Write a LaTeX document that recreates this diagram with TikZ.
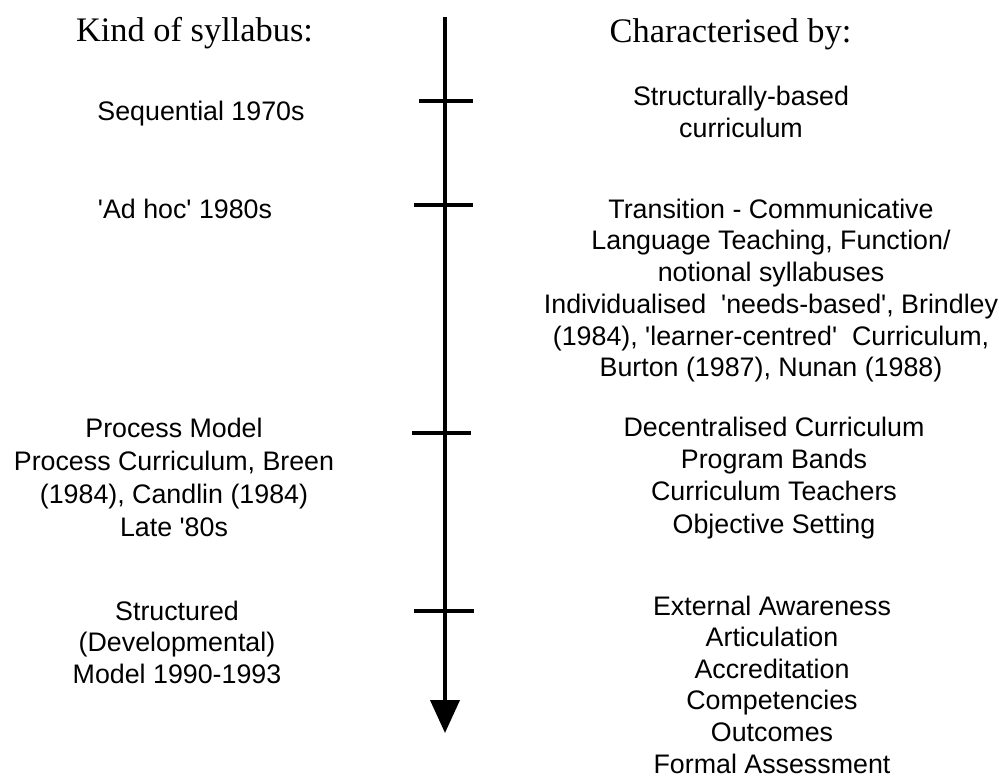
\documentclass[tikz,border=0pt]{standalone}
\usepackage{fontspec}
\setmainfont{Liberation Serif}
\newfontfamily\arialf{Liberation Sans}
\usetikzlibrary{arrows.meta}
\newcommand{\sq}{\textquotesingle}
\tikzset{
  head/.style={inner sep=0pt, anchor=base, font=\fontsize{34.4pt}{40pt}\selectfont\rmfamily},
  body/.style={inner sep=0pt, anchor=base, align=center, font=\fontsize{26.8pt}{#1}\selectfont\arialf},
  body/.default={31.7pt},
  axis/.style={line width=4pt},
  tick/.style={line width=3.5pt}
}
\begin{document}
\begin{tikzpicture}[x=1pt,y=-1pt]
\useasboundingbox (0,0) rectangle (999,777);
% headings
\node[head] (hl) at (194.5,41) {Kind of syllabus:};
\node[head] (hr) at (730.5,42) {Characterised by:};
% axis
\coordinate (top) at (445,17);
\coordinate (bot) at (445,733);
\draw[axis,-{Triangle[width=29pt,length=33pt]}] (top) -- (bot);
% ticks
\coordinate (t1a) at (419,101); \coordinate (t1b) at (473,101);
\coordinate (t2a) at (414,205); \coordinate (t2b) at (473,205);
\coordinate (t3a) at (412,433); \coordinate (t3b) at (471,433);
\coordinate (t4a) at (414,611); \coordinate (t4b) at (474,611);
\draw[tick] (t1a) -- (t1b);
\draw[tick] (t2a) -- (t2b);
\draw[tick] (t3a) -- (t3b);
\draw[tick] (t4a) -- (t4b);
% left column (y = baseline of last line)
\node[body] (l1) at (201,120) {Sequential 1970s};
\node[body] (l2) at (185,218) {\sq Ad hoc\sq{} 1980s};
\node[body=32.7pt] (l3) at (174,536) {Process Model\\Process Curriculum, Breen\\(1984), Candlin (1984)\\Late \sq 80s};
\node[body=31.5pt] (l4) at (177,683) {Structured\\(Developmental)\\Model 1990-1993};
% right column
\node[body=32pt] (r1) at (741,137) {Structurally-based\\curriculum};
\node[body] (r2) at (771,376.7) {Transition - Communicative\\Language Teaching, Function/\\notional syllabuses\\Individualised\ \ \sq needs-based\sq, Brindley\\(1984), \sq learner-centred\sq\ \ Curriculum,\\Burton (1987), Nunan (1988)};
\node[body=32.1pt] (r3) at (774,533) {Decentralised Curriculum\\Program Bands\\Curriculum Teachers\\Objective Setting};
\node[body=31.6pt] (r4) at (772,773) {External Awareness\\Articulation\\Accreditation\\Competencies\\Outcomes\\Formal Assessment};
\end{tikzpicture}
\end{document}
